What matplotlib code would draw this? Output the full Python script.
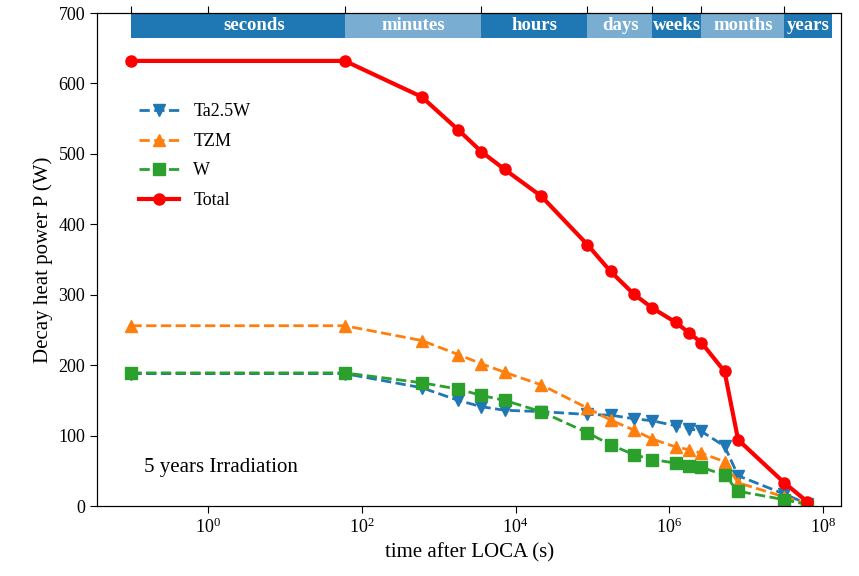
import numpy as np
import matplotlib
matplotlib.use("Agg")
import matplotlib.pyplot as plt

plt.rcParams['font.family'] = ['Liberation Serif', 'DejaVu Serif']
plt.rcParams['mathtext.fontset'] = 'stix'

# time after LOCA (s)
t_total = [0.1, 60, 600, 1800, 3600, 7200, 21600, 86400, 172800, 345600,
           604800, 1.21e6, 1.81e6, 2.63e6, 5.26e6, 7.9e6, 3.15e7, 6.3e7]
total = [632, 632, 581, 534, 503, 478, 440, 371, 333, 301,
         281, 261, 246, 232, 191, 94, 33, 6]

t_mat = t_total
ta25w = [188, 188, 168, 150, 141, 136, 134, 130, 129, 124,
         121, 114, 110, 106, 85, 43, 17, 3]
tzm = [256, 256, 235, 215, 202, 190, 172, 139, 122, 108,
       95, 84, 80, 75, 63, 33, 13, 3]
w = [189, 189, 175, 166, 157, 150, 134, 104, 87, 73,
     66, 61, 57, 55, 44, 21, 9, 2]

# time-scale band along the top
band_names = ['seconds', 'minutes', 'hours', 'days', 'weeks', 'months', 'years']
band_edges = [0.1, 60, 3600, 86400, 604800, 2.63e6, 3.15e7, 1.3e8]
band_label_x = [4, 470, 1.75e4, 2.3e5, 1.25e6, 9.2e6, 6.4e7]
top_ticks = [0.1, 1, 60, 3600, 86400, 604800, 2.63e6, 3.15e7]

fig = plt.figure(figsize=(8.59, 5.76), dpi=100)
ax = fig.add_axes([0.1129, 0.1215, 0.9796 - 0.1129, 0.9774 - 0.1215])

ax.plot(t_mat, ta25w, linestyle='--', marker='v', color='#1f77b4', lw=2,
        ms=8, label='Ta2.5W')
ax.plot(t_mat, tzm, linestyle='--', marker='^', color='#ff7f0e', lw=2,
        ms=8, label='TZM')
ax.plot(t_mat, w, linestyle='--', marker='s', color='#2ca02c', lw=2,
        ms=8, label='W')
ax.plot(t_total, total, linestyle='-', marker='o', color='red', lw=3,
        ms=8, label='Total')

ax.set_xscale('log')
ax.set_xlim(0.0356, 1.75e8)
ax.set_ylim(0, 700)
ax.set_yticks(np.arange(0, 701, 100))
ax.set_xticks([1, 1e2, 1e4, 1e6, 1e8])
ax.xaxis.set_minor_locator(matplotlib.ticker.NullLocator())
ax.tick_params(labelsize=13, direction='out', length=5)

band_colors = ['#1f77b4', '#79add2']
for i, name in enumerate(band_names):
    x0, x1 = band_edges[i], band_edges[i + 1]
    ax.axvspan(x0, x1, ymin=0.949, ymax=1.0, color=band_colors[i % 2], lw=0)
    ax.text(band_label_x[i], 682, name, color='white', fontweight='bold',
            fontsize=13.5, ha='center', va='center')

ax2 = ax.twiny()
ax2.set_xscale('log')
ax2.set_xlim(ax.get_xlim())
ax2.set_xticks(top_ticks)
ax2.set_xticklabels([''] * len(top_ticks))
ax2.xaxis.set_minor_locator(matplotlib.ticker.NullLocator())
ax2.tick_params(direction='out', length=5)

ax.set_xlabel('time after LOCA (s)', fontsize=15)
ax.set_ylabel('Decay heat power P (W)', fontsize=15)
ax.text(0.063, 0.07, '5 years Irradiation', transform=ax.transAxes,
        fontsize=15)

ax.legend(loc='upper left', bbox_to_anchor=(0.035, 0.85), frameon=False,
          fontsize=13, handlelength=2.2, labelspacing=0.7)

fig.savefig('out.png', dpi=100)
